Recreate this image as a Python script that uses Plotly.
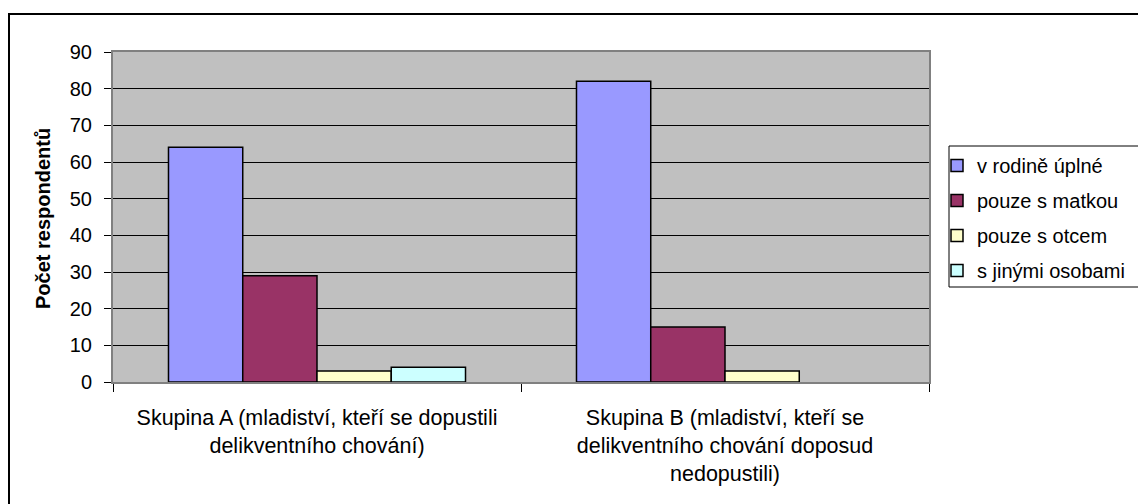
import plotly.graph_objects as go

categories = [
    "Skupina A (mladiství, kteří se dopustili<br>delikventního chování)",
    "Skupina B (mladiství, kteří se<br>delikventního chování doposud<br>nedopustili)",
]
series_names = ["v rodině úplné", "pouze s matkou", "pouze s otcem", "s jinými osobami"]
v_rodine_uplne = [64, 82]
pouze_s_matkou = [29, 15]
pouze_s_otcem = [3, 3]
s_jinymi_osobami = [4, None]
y_ticks = [0, 10, 20, 30, 40, 50, 60, 70, 80, 90]

colors = ["#9999FF", "#993366", "#FFFFCC", "#CCFFFF"]
values = [v_rodine_uplne, pouze_s_matkou, pouze_s_otcem, s_jinymi_osobami]

FONT = "Liberation Sans, Arial, sans-serif"

fig = go.Figure()
for i, (name, vals) in enumerate(zip(series_names, values)):
    fig.add_trace(go.Bar(
        x=categories, y=vals, name=name,
        marker=dict(color=colors[i], line=dict(color="#000000", width=1.5)),
        legendgroup=f"g{i}",
    ))

# page body has an 8px margin; work in page pixel coordinates
OFF = 8
W, H = 1146 - OFF, 504 - OFF
L, R, T, B = 113, 929, 52, 382   # plot area in page pixels
pw, ph = R - L, B - T

def px_x(x):
    return (x - L) / pw

def px_y(y):
    return (B - y) / ph

fig.update_layout(
    width=W, height=H,
    margin=dict(l=L - OFF, r=(W + OFF) - R, t=T - OFF, b=(H + OFF) - B, autoexpand=False),
    paper_bgcolor="white",
    plot_bgcolor="#C0C0C0",
    barmode="group",
    bargap=0.272,
    bargroupgap=0,
    font=dict(family=FONT, size=18, color="#000000"),
    showlegend=True,
    legend=dict(
        x=px_x(937), y=px_y(146), xanchor="left", yanchor="top",
        bgcolor="rgba(0,0,0,0)", borderwidth=0,
        font=dict(family=FONT, size=20, color="#000000"),
        tracegroupgap=6,
        traceorder="grouped",
        itemwidth=30,
    ),
    xaxis=dict(
        type="category",
        showline=True, linecolor="#808080", linewidth=2, mirror=True,
        ticks="outside", tickson="boundaries", ticklen=8, tickcolor="#000000", tickwidth=1,
        ticklabelstandoff=15,
        tickfont=dict(family=FONT, size=21.5, color="#000000"),
        tickangle=0,
        showgrid=False,
    ),
    yaxis=dict(
        range=[0, 90],
        tickvals=y_ticks,
        showline=True, linecolor="#808080", linewidth=2, mirror=True,
        ticks="outside", ticklen=7, tickcolor="#000000", tickwidth=1,
        ticklabelstandoff=8,
        tickfont=dict(family=FONT, size=20, color="#000000"),
        showgrid=True, gridcolor="#000000", gridwidth=1,
        zeroline=False,
    ),
    annotations=[dict(
        text="<b>Počet respondentů</b>", textangle=-90,
        xref="paper", yref="paper", x=px_x(43), y=px_y(219),
        xanchor="center", yanchor="middle", showarrow=False,
        font=dict(family=FONT, size=20, color="#000000"),
    )],
    shapes=[
        dict(
            type="rect", xref="paper", yref="paper",
            x0=px_x(9), y0=px_y(14), x1=px_x(1170), y1=px_y(530),
            line=dict(color="#000000", width=2), fillcolor="rgba(0,0,0,0)",
            layer="above",
        ),
        dict(
            type="rect", xref="paper", yref="paper",
            x0=px_x(949), y0=px_y(146), x1=px_x(1160), y1=px_y(287),
            line=dict(color="#000000", width=1), fillcolor="rgba(0,0,0,0)",
            layer="above",
        ),
    ],
)

fig.write_html("out.html")
